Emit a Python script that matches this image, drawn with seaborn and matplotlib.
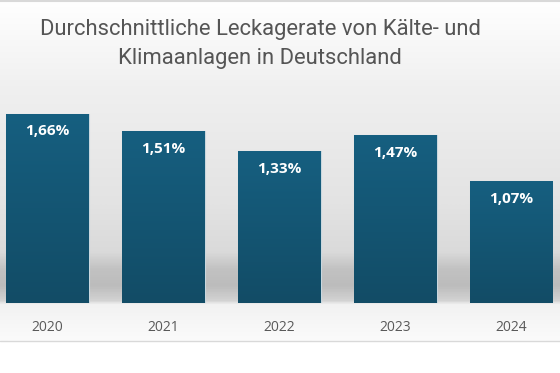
import numpy as np
import pandas as pd
import seaborn as sns
import matplotlib.pyplot as plt
from matplotlib.colors import LinearSegmentedColormap

# Daten
jahre = ['2020', '2021', '2022', '2023', '2024']
leckagerate = [1.66, 1.51, 1.33, 1.47, 1.07]
beschriftung = ['1,66%', '1,51%', '1,33%', '1,47%', '1,07%']
titel = 'Durchschnittliche Leckagerate von Kälte- und\nKlimaanlagen in Deutschland'

df = pd.DataFrame({'Jahr': jahre, 'Rate': leckagerate})

sns.set_style('white')
plt.rcParams['font.family'] = ['Open Sans', 'DejaVu Sans']

W, H = 560, 373
fig = plt.figure(figsize=(W / 100, H / 100), dpi=100, facecolor='white')

# Hintergrund mit Verlauf und "Bodenschatten"
bg = fig.add_axes([0, (H - 341) / H, 1, 341 / H])
stops = [(0.0, '#ffffff'), (0.25, '#f0f0f0'), (0.60, '#e3e3e3'), (0.74, '#dadada'),
         (0.79, '#c2c2c2'), (0.84, '#bcbcbc'), (0.885, '#d4d4d4'), (0.895, '#f2f2f2'),
         (1.0, '#fbfbfb')]
bg_cmap = LinearSegmentedColormap.from_list('bg', stops)
grad = np.linspace(0, 1, 400).reshape(-1, 1)
bg.imshow(grad, aspect='auto', cmap=bg_cmap, extent=[0, 1, 1, 0])
bg.set_xlim(0, 1)
bg.set_ylim(1, 0)
bg.axis('off')

# Linien oben und unten
fig.add_artist(plt.Line2D([0, 1], [1 - 1 / H, 1 - 1 / H], color='#d9d9d9', lw=1.5))
fig.add_artist(plt.Line2D([0, 1], [(H - 341) / H, (H - 341) / H], color='#d9d9d9', lw=1))

# Balkendiagramm
ax = fig.add_axes([0, (H - 303) / H, 1, 303 / H])
ax.patch.set_alpha(0)
sns.barplot(data=df, x='Jahr', y='Rate', color='#145878', width=0.71,
            edgecolor='#c9d7de', linewidth=0.8, ax=ax)

bar_cmap = LinearSegmentedColormap.from_list('bar', ['#165f80', '#124c66'])
for patch, txt in zip(ax.patches, beschriftung):
    x0, y0 = patch.get_x(), patch.get_y()
    w, h = patch.get_width(), patch.get_height()
    im = ax.imshow(np.linspace(0, 1, 100).reshape(-1, 1), cmap=bar_cmap, aspect='auto',
                   extent=[x0, x0 + w, y0, y0 + h], origin='upper', zorder=patch.get_zorder())
    im.set_clip_path(patch)
    ax.text(x0 + w / 2, y0 + h - 0.155, txt, ha='center', va='center', color='white',
            fontsize=11, fontweight='bold', zorder=5)
ax.set_xlim(-0.41, 4.42)
ax.set_ylim(0, 303 / 114)

ax.set_xlabel('')
ax.set_ylabel('')
ax.set_yticks([])
ax.tick_params(axis='x', length=0, pad=12, labelsize=10, labelcolor='#595959')
for s in ax.spines.values():
    s.set_visible(False)

fig.text(260 / W, 1 - 44 / H, titel, ha='center', va='center', fontsize=15.8,
         color='#555555', linespacing=1.45, family=['Roboto', 'DejaVu Sans'])

fig.savefig('out.png', dpi=100, facecolor='white')
